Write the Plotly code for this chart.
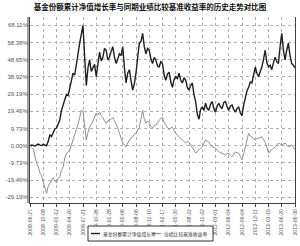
import plotly.graph_objects as go

title = "基金份额累计净值增长率与同期业绩比较基准收益率的历史走势对比图"
fund_name = "基金份额累计净值增长率"
bench_name = "业绩比较基准收益率"

tick_labels = ["2008-06-27", "2008-10-08", "2009-01-12", "2009-04-20", "2009-07-21",
               "2009-10-26", "2010-01-28", "2010-05-06", "2010-08-06", "2010-11-10",
               "2011-02-17", "2011-05-20", "2011-08-22", "2011-11-22", "2012-03-01",
               "2012-06-04", "2012-09-04", "2012-12-11", "2013-03-19", "2013-06-20",
               "2013-06-30"]

y_ticks = [-29.19, -19.46, -9.73, 0.0, 9.73, 19.46, 29.19, 38.92, 48.65, 58.38, 68.11]

fund = [0, 0.4, 0.2, -0.3, 0.5, 0.9, 0.3, 0.1, 0.8, 0.4, 0.0, 2.5, 6, 5.2, 7.7, 9.5,
        10, 12.8, 14.5, 20, 23, 25.5, 29, 28.4, 33, 38.5, 41, 40, 45, 52, 58, 63,
        68, 50, 34, 44, 48.5, 42, 44.5, 46, 39, 47, 53, 48, 50, 55, 54, 48.5,
        50, 53.5, 56, 50, 46.5, 49, 52, 51, 56, 44, 35.5, 41, 43, 37, 31.5, 35,
        41, 50, 58, 59, 63.6, 56, 52, 55, 54, 49, 46.5, 50, 48.5, 45, 44.5, 47.5,
        46.5, 40, 37, 40.5, 41.6, 36, 33, 37.5, 39, 38, 41, 37, 35.5, 38.5, 37, 33,
        31.5, 34, 35.5, 29, 25, 18, 15, 20.5, 22, 20, 24, 21, 20, 23.5, 25, 21,
        19, 22.5, 24, 22, 21, 24.5, 25, 22, 20, 22.5, 23, 20.5, 19, 21, 22, 18.5,
        17, 23, 27.5, 31, 33, 36, 35.5, 40, 44.5, 41, 39, 42, 44.5, 49, 54, 47,
        44.5, 45.5, 43, 47, 50, 47.5, 46.5, 56, 63.6, 54, 48.5, 54, 58, 51, 46.5, 45.5,
        44]

bench = [0, -1, -2, -6, -10, -12, -15.5, -17, -20.5, -24, -27, -23, -21, -19.5, -18, -20,
         -21, -18.5, -17.5, -14, -12, -7, -4.2, -3.5, -2.4, 0.5, 3.2, 6, 9, 12, 16, 20,
         19.5, 10, 3.2, 7.5, 10.5, 12, 14.5, 16.5, 18.5, 17.5, 19, 17, 16, 14, 12.7, 14,
         14.5, 15, 16, 14, 12.7, 10, 7, 4, 1.5, 0.5, -0.7, 1.5, 3.2, 4.5, 5, 6.5,
         7, 9, 10.5, 15, 20, 15, 12.7, 14, 13, 11, 10, 11.5, 11.6, 13, 14.5, 15.5,
         16, 13, 11.6, 10, 9, 10, 10.5, 8.5, 7, 6, 5, 4, 3.2, 2.5, 1.5, 2.5,
         2, 0.5, -0.7, -2.5, -4.2, -3, -2.4, -1.5, -0.7, 1.5, 3.2, 2.5, 2, 0.5, -0.7, -1,
         -1.3, -2.5, -3.5, -3.8, -4.2, -5, -5.3, -4.5, -4.2, -5.5, -6.3, -5, -3.5, -4, -4.2, -6,
         -8, -4.5, -0.7, 3.5, 7, 5.5, 5, 4, 3.2, 4, 4.3, 4.5, 5, 3.5, 2, -1,
         -4.2, -3, -2.4, -1.5, -0.7, 0.5, 1.5, 1, 0.4, 1, 1.5, 0.5, -0.7, -0.2, 0.4, -1,
         -2.4]

SPAN = 80.0
fund_x = [i * SPAN / (len(fund) - 1) for i in range(len(fund))]
bench_x = [i * SPAN / (len(bench) - 1) for i in range(len(bench))]
tick_idx = [i * SPAN / (len(tick_labels) - 1) for i in range(len(tick_labels))]

W, H = 300, 246
ML, MR, MT, MB = 30, 5, 17, 43
PW, PH = W - ML - MR, H - MT - MB


def px(xp):
    return (xp - ML) / PW


def py(yp):
    return (H - MB - yp) / PH


fig = go.Figure()
fig.add_trace(go.Scatter(x=fund_x, y=fund, mode="lines", name=fund_name,
                         line=dict(color="#1f1f1f", width=1.4)))
fig.add_trace(go.Scatter(x=bench_x, y=bench, mode="lines", name=bench_name,
                         line=dict(color="#909090", width=1)))

fig.update_layout(
    width=W, height=H,
    margin=dict(l=ML, r=MR, t=MT, b=MB),
    paper_bgcolor="white", plot_bgcolor="white",
    title=dict(text="<b>" + title + "</b>", x=0.5, xanchor="center", xref="container",
               y=1 - 7.5 / H, yanchor="middle", yref="container",
               font=dict(family="Noto Sans CJK SC", size=7.5, color="#111")),
    showlegend=False,
    font=dict(family="Liberation Sans", size=6, color="#555"),
)

fig.update_xaxes(range=[0, SPAN], tickvals=tick_idx, ticktext=tick_labels,
                 tickangle=-90, tickfont=dict(size=5.2, color="#555"),
                 showgrid=True, gridcolor="#b0b0b0", griddash="dot", gridwidth=1,
                 showline=True, linecolor="#444", linewidth=1,
                 ticks="outside", ticklen=3, tickcolor="#444", zeroline=False,
                 automargin=False)
fig.update_yaxes(range=[-32.4, 72.8], tickvals=y_ticks,
                 ticktext=[f"{v:.2f}%" for v in y_ticks],
                 tickfont=dict(size=6, color="#555"),
                 showgrid=True, gridcolor="#b0b0b0", griddash="dot", gridwidth=1,
                 showline=True, linecolor="#444", linewidth=1, mirror=True,
                 ticks="", zeroline=False, automargin=False)

# double left axis line
fig.add_shape(type="line", xref="paper", yref="paper", x0=-2 / PW, x1=-2 / PW, y0=0, y1=1,
              line=dict(color="#444", width=1))

# manual legend
fig.add_shape(type="rect", xref="paper", yref="paper",
              x0=px(88), x1=px(213), y0=py(241), y1=py(226),
              line=dict(color="#333", width=1), fillcolor="white")
fig.add_shape(type="line", xref="paper", yref="paper",
              x0=px(91), x1=px(100), y0=py(233.5), y1=py(233.5),
              line=dict(color="#1f1f1f", width=1.4))
fig.add_shape(type="line", xref="paper", yref="paper",
              x0=px(152), x1=px(161), y0=py(233.5), y1=py(233.5),
              line=dict(color="#909090", width=1.2))
fig.add_annotation(text=fund_name, xref="paper", yref="paper", x=px(101), y=py(233.5),
                   xanchor="left", yanchor="middle", showarrow=False,
                   font=dict(family="Noto Sans CJK SC", size=4.8, color="#333"))
fig.add_annotation(text=bench_name, xref="paper", yref="paper", x=px(162), y=py(233.5),
                   xanchor="left", yanchor="middle", showarrow=False,
                   font=dict(family="Noto Sans CJK SC", size=4.8, color="#333"))

fig.write_html("out.html")
